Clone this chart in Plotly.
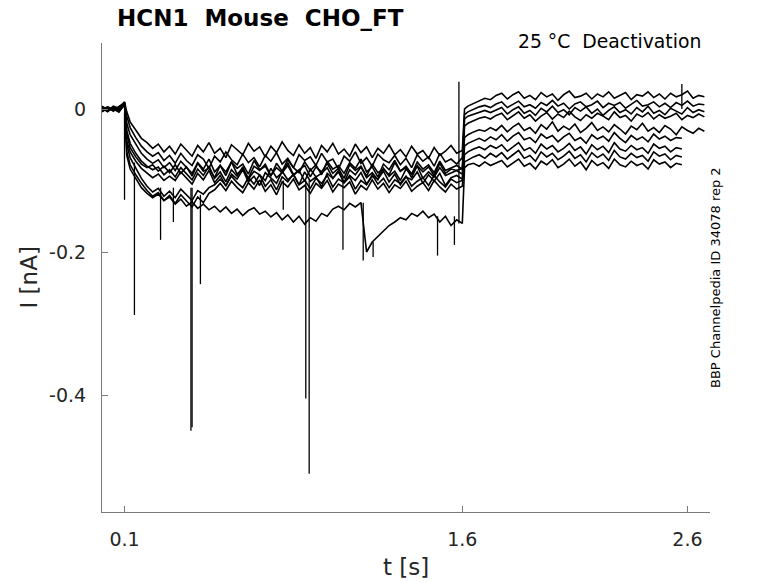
import plotly.graph_objects as go

# sample times [s]: before the step, during the -ve pulse, after the return at 1.6 s
t_pre = [0.000, 0.025, 0.050, 0.075, 0.100]
t_pulse = [0.110, 0.125, 0.150, 0.175, 0.200, 0.225, 0.250, 0.275, 0.300,
           0.325, 0.350, 0.375, 0.400, 0.425, 0.450, 0.475, 0.500, 0.525, 0.550,
           0.575, 0.600, 0.625, 0.650, 0.675, 0.700, 0.725, 0.750, 0.775, 0.800,
           0.825, 0.850, 0.875, 0.900, 0.925, 0.950, 0.975, 1.000, 1.025, 1.050,
           1.075, 1.100, 1.125, 1.150, 1.175, 1.200, 1.225, 1.250, 1.275, 1.300,
           1.325, 1.350, 1.375, 1.400, 1.425, 1.450, 1.475, 1.500, 1.525, 1.550,
           1.575, 1.600]
t_post = [1.610, 1.625, 1.650, 1.675, 1.700, 1.725, 1.750, 1.775, 1.800, 1.825,
          1.850, 1.875, 1.900, 1.925, 1.950, 1.975, 2.000, 2.025, 2.050, 2.075,
          2.100, 2.125, 2.150, 2.175, 2.200, 2.225, 2.250, 2.275, 2.300, 2.325,
          2.350, 2.375, 2.400, 2.425, 2.450, 2.475, 2.500, 2.525, 2.550, 2.575,
          2.600, 2.625, 2.650, 2.675]
t = t_pre + t_pulse + t_post

# current sweeps [nA] (the short ones stop at 2.575 s)
sweep_a = [0.002, -0.003, 0.004, 0.001, 0.010,
           -0.004, -0.018, -0.030, -0.041, -0.047, -0.055, -0.049, -0.060, -0.052,
           -0.063, -0.049, -0.058, -0.066, -0.051, -0.060, -0.047, -0.062, -0.055, -0.068,
           -0.050, -0.057, -0.064, -0.048, -0.059, -0.053, -0.067, -0.052, -0.061, -0.046,
           -0.058, -0.065, -0.050, -0.062, -0.054, -0.069, -0.051, -0.060, -0.048, -0.063,
           -0.056, -0.066, -0.049, -0.061, -0.053, -0.068, -0.055, -0.062, -0.050, -0.064,
           -0.057, -0.067, -0.052, -0.063, -0.058, -0.069, -0.054, -0.065, -0.059, -0.051,
           -0.062, -0.058,
           0.000, 0.004, 0.008, 0.011, 0.015, 0.013, 0.019,
           0.022, 0.014, 0.020, 0.024, 0.015, 0.019, 0.013, 0.023, 0.017, 0.021,
           0.012, 0.020, 0.025, 0.016, 0.018, 0.022, 0.014, 0.021, 0.017, 0.024,
           0.015, 0.019, 0.023, 0.013, 0.020, 0.018, 0.024, 0.016, 0.021, 0.014,
           0.022, 0.017, 0.020, 0.025, 0.015, 0.019, 0.017]
sweep_b = [-0.002, 0.003, -0.003, 0.002, 0.008,
           -0.010, -0.026, -0.040, -0.052, -0.060, -0.066, -0.061, -0.072, -0.065,
           -0.076, -0.062, -0.072, -0.079, -0.064, -0.070, -0.083, -0.066, -0.074, -0.060,
           -0.071, -0.078, -0.063, -0.075, -0.068, -0.081, -0.065, -0.073, -0.061, -0.077,
           -0.069, -0.082, -0.064, -0.072, -0.067, -0.079, -0.062, -0.074, -0.070, -0.084,
           -0.066, -0.073, -0.060, -0.076, -0.068, -0.080, -0.063, -0.071, -0.075, -0.065,
           -0.078, -0.069, -0.082, -0.064, -0.073, -0.067, -0.080, -0.062, -0.074, -0.070,
           -0.077, -0.068,
           -0.008, -0.004, 0.000, 0.003, 0.005, 0.002, 0.007,
           0.010, 0.002, 0.007, 0.011, 0.003, 0.006, 0.001, 0.009, 0.005, 0.012,
           0.004, 0.008, 0.000, 0.007, 0.010, 0.003, 0.006, 0.011, 0.002, 0.008,
           0.005, 0.009, 0.001, 0.007, 0.012, 0.004, 0.006, 0.010, 0.003, 0.008,
           0.002, 0.009, 0.005, 0.011, 0.004, 0.007, 0.006]
sweep_c = [0.004, -0.001, 0.001, -0.004, 0.006,
           -0.020, -0.036, -0.050, -0.062, -0.070, -0.076, -0.071, -0.082, -0.075,
           -0.086, -0.073, -0.082, -0.090, -0.075, -0.084, -0.070, -0.088, -0.079, -0.093,
           -0.074, -0.083, -0.077, -0.091, -0.072, -0.085, -0.080, -0.094, -0.076, -0.087,
           -0.071, -0.082, -0.089, -0.074, -0.086, -0.078, -0.092, -0.073, -0.084, -0.079,
           -0.090, -0.075, -0.083, -0.070, -0.088, -0.081, -0.095, -0.077, -0.085, -0.072,
           -0.087, -0.080, -0.091, -0.074, -0.084, -0.078, -0.089, -0.073, -0.086, -0.082,
           -0.079, -0.084,
           -0.014, -0.010, -0.007, -0.004, -0.002, -0.005, -0.001,
           0.002, -0.007, -0.001, 0.003, -0.006, -0.002, -0.009, 0.001, -0.004, 0.004,
           -0.005, -0.001, -0.008, 0.002, -0.003, 0.003, -0.006, 0.000, -0.009, -0.002,
           0.003, -0.005, -0.001, -0.007, 0.002, -0.004, 0.004, -0.006, -0.002, -0.008,
           0.001, -0.003, -0.007, 0.002, -0.005, -0.001, -0.004]
sweep_d = [-0.003, 0.002, -0.002, 0.004, 0.009,
           -0.030, -0.048, -0.062, -0.073, -0.080, -0.085, -0.081, -0.092, -0.085,
           -0.095, -0.082, -0.091, -0.099, -0.084, -0.093, -0.080, -0.097, -0.088, -0.102,
           -0.085, -0.094, -0.081, -0.098, -0.087, -0.092, -0.100, -0.083, -0.096, -0.089,
           -0.079, -0.093, -0.086, -0.101, -0.084, -0.095, -0.090, -0.082, -0.097, -0.088,
           -0.103, -0.085, -0.092, -0.081, -0.096, -0.089, -0.099, -0.083, -0.094, -0.087,
           -0.100, -0.084, -0.091, -0.080, -0.097, -0.088, -0.095, -0.082, -0.093, -0.090,
           -0.086, -0.091,
           -0.024, -0.020, -0.016, -0.013, -0.011, -0.014, -0.009,
           -0.006, -0.015, -0.009, -0.004, -0.013, -0.008, -0.017, -0.010, -0.005, -0.014,
           -0.007, -0.012, -0.003, -0.011, -0.016, -0.008, -0.013, -0.006, -0.010, -0.015,
           -0.004, -0.012, -0.009, -0.017, -0.007, -0.011, -0.005, -0.014, -0.008, -0.013,
           -0.010, -0.006, -0.015, -0.009, -0.012, -0.007, -0.011]
sweep_e = [0.001, -0.004, 0.003, -0.001, 0.007,
           -0.035, -0.054, -0.067, -0.077, -0.082, -0.078, -0.087, -0.080, -0.089,
           -0.078, -0.090, -0.081, -0.094, -0.076, -0.087, -0.083, -0.096, -0.079, -0.088,
           -0.074, -0.091, -0.084, -0.097, -0.080, -0.086, -0.077, -0.093, -0.082, -0.089,
           -0.075, -0.092, -0.085, -0.079, -0.095, -0.081, -0.088, -0.076, -0.090, -0.083,
           -0.097, -0.078, -0.086, -0.080, -0.094, -0.077, -0.089, -0.084, -0.092, -0.075,
           -0.087, -0.082, -0.096, -0.079, -0.088, -0.081, -0.093, -0.076, -0.090, -0.084,
           -0.086, -0.083,
           -0.040, -0.036, -0.032, -0.029, -0.031, -0.026, -0.030,
           -0.023, -0.032, -0.025, -0.020, -0.030, -0.026, -0.034, -0.022, -0.028, -0.018,
           -0.031, -0.024, -0.029, -0.021, -0.033, -0.027, -0.019, -0.030, -0.025, -0.032,
           -0.022, -0.028, -0.035, -0.024, -0.029, -0.020, -0.031, -0.026, -0.033, -0.023,
           -0.028, -0.036, -0.025, -0.030, -0.034, -0.027, -0.031]
sweep_f = [-0.001, 0.003, 0.000, -0.004, 0.008,
           -0.045, -0.060, -0.073, -0.083, -0.090, -0.096, -0.091, -0.100, -0.094,
           -0.100, -0.088, -0.097, -0.105, -0.090, -0.099, -0.086, -0.103, -0.093, -0.108,
           -0.091, -0.098, -0.085, -0.102, -0.094, -0.107, -0.089, -0.096, -0.104, -0.087,
           -0.099, -0.092, -0.106, -0.088, -0.101, -0.095, -0.109, -0.090, -0.097, -0.086,
           -0.103, -0.093, -0.100, -0.089, -0.105, -0.094, -0.098, -0.087, -0.102, -0.091,
           -0.106, -0.095, -0.099, -0.088, -0.104, -0.092, -0.101, -0.090, -0.107, -0.096,
           -0.093, -0.098,
           -0.052, -0.048, -0.044, -0.041, -0.045, -0.039, -0.043,
           -0.036, -0.045, -0.038, -0.033, -0.043, -0.040, -0.047, -0.035, -0.041, -0.037,
           -0.046, -0.039, -0.034, -0.044, -0.040, -0.048, -0.036, -0.042, -0.038, -0.045,
           -0.033, -0.041, -0.047, -0.037, -0.043, -0.039, -0.046, -0.035, -0.042, -0.038,
           -0.044, -0.040, -0.041]
sweep_g = [0.003, -0.002, 0.002, -0.003, 0.006,
           -0.050, -0.068, -0.083, -0.097, -0.108, -0.116, -0.111, -0.122, -0.115,
           -0.124, -0.112, -0.120, -0.128, -0.114, -0.119, -0.110, -0.106,
           -0.098, -0.107, -0.094, -0.103, -0.110, -0.096, -0.105, -0.092, -0.108, -0.099,
           -0.113, -0.095, -0.102, -0.091, -0.106, -0.100, -0.111, -0.097, -0.104, -0.093,
           -0.109, -0.098, -0.103, -0.095, -0.112, -0.100, -0.106, -0.092, -0.105, -0.097,
           -0.110, -0.099, -0.104, -0.094, -0.108, -0.101, -0.096, -0.107, -0.093, -0.102,
           -0.109, -0.098, -0.103, -0.100,
           -0.064, -0.060, -0.056, -0.053, -0.057, -0.051, -0.055,
           -0.050, -0.059, -0.053, -0.047, -0.058, -0.054, -0.062, -0.049, -0.056, -0.051,
           -0.060, -0.055, -0.048, -0.058, -0.053, -0.063, -0.050, -0.057, -0.052, -0.061,
           -0.047, -0.056, -0.059, -0.051, -0.057, -0.054, -0.062, -0.049, -0.055, -0.052,
           -0.060, -0.054, -0.056]
sweep_h = [-0.004, 0.001, -0.002, 0.003, 0.007,
           -0.060, -0.078, -0.092, -0.104, -0.114, -0.122, -0.117, -0.128, -0.121,
           -0.132, -0.120, -0.129, -0.137, -0.123, -0.131, -0.118, -0.113,
           -0.104, -0.114, -0.101, -0.110, -0.117, -0.103, -0.112, -0.099, -0.115, -0.106,
           -0.120, -0.102, -0.109, -0.098, -0.113, -0.107, -0.118, -0.104, -0.111, -0.100,
           -0.116, -0.105, -0.110, -0.102, -0.119, -0.107, -0.113, -0.099, -0.112, -0.104,
           -0.117, -0.106, -0.111, -0.101, -0.115, -0.108, -0.103, -0.114, -0.100, -0.109,
           -0.116, -0.105, -0.112, -0.108,
           -0.074, -0.071, -0.067, -0.064, -0.069, -0.062, -0.067,
           -0.061, -0.070, -0.064, -0.058, -0.069, -0.065, -0.073, -0.060, -0.067, -0.062,
           -0.071, -0.066, -0.059, -0.069, -0.064, -0.074, -0.061, -0.068, -0.063, -0.072,
           -0.058, -0.067, -0.070, -0.062, -0.068, -0.065, -0.073, -0.060, -0.066, -0.063,
           -0.071, -0.065, -0.067]
sweep_low = [0.002, -0.003, 0.001, -0.002, 0.008,
             -0.065, -0.084, -0.098, -0.110, -0.118, -0.124, -0.119, -0.128, -0.123,
             -0.133, -0.126, -0.136, -0.130, -0.139, -0.133, -0.141, -0.136,
             -0.144, -0.137, -0.146, -0.140, -0.149, -0.142, -0.138, -0.147, -0.143, -0.151,
             -0.145, -0.155, -0.148, -0.158, -0.150, -0.161, -0.152, -0.157, -0.146, -0.150,
             -0.140, -0.136, -0.141, -0.132, -0.137, -0.131,
             -0.200, -0.186, -0.178, -0.170, -0.163, -0.158, -0.152, -0.155, -0.146, -0.150,
             -0.143, -0.152, -0.147, -0.158, -0.150, -0.163, -0.155, -0.160,
             -0.082, -0.078, -0.076, -0.080, -0.074, -0.079, -0.075,
             -0.072, -0.081, -0.075, -0.070, -0.080, -0.076, -0.084, -0.073, -0.078, -0.071,
             -0.082, -0.077, -0.070, -0.080, -0.074, -0.085, -0.072, -0.079, -0.075, -0.083,
             -0.070, -0.078, -0.081, -0.073, -0.079, -0.076, -0.084, -0.071, -0.077, -0.074,
             -0.082, -0.076, -0.078]
sweeps = [sweep_a, sweep_b, sweep_c, sweep_d, sweep_e, sweep_f, sweep_g, sweep_h, sweep_low]

# brief transients: time [s], sweep level before it, tip value [nA]
spike_t = [0.100, 0.144, 0.260, 0.317, 0.395, 0.400, 0.437, 0.805, 0.905, 0.920,
           1.070, 1.160, 1.204, 1.490, 1.565, 1.585, 2.575]
spike_base = [-0.005, -0.075, -0.110, -0.110, -0.110, -0.110, -0.120, -0.100, -0.100, -0.100,
              -0.100, -0.131, -0.186, -0.150, -0.150, -0.160, 0.000]
spike_tip = [-0.127, -0.288, -0.183, -0.158, -0.450, -0.445, -0.245, -0.141, -0.405, -0.510,
             -0.197, -0.212, -0.207, -0.205, -0.190, 0.038, 0.035]

x_ticks = [0.1, 1.6, 2.6]
x_labels = ["0.1", "1.6", "2.6"]
y_ticks = [0, -0.2, -0.4]
y_labels = ["0", "-0.2", "-0.4"]

FONT = "DejaVu Sans"
TXT = "#262626"
AX = "#7a7a7a"

fig = go.Figure()

for s in sweeps:
    fig.add_trace(go.Scatter(x=t[:len(s)], y=s, mode="lines",
                             line=dict(color="black", width=1.6), hoverinfo="skip"))

for st, sb, sp in zip(spike_t, spike_base, spike_tip):
    fig.add_trace(go.Scatter(x=[st, st], y=[sb, sp], mode="lines",
                             line=dict(color="black", width=1.3), hoverinfo="skip"))

fig.update_layout(
    width=778, height=583,
    margin=dict(l=102, r=68, t=43, b=71),
    paper_bgcolor="white", plot_bgcolor="white",
    showlegend=False,
    font=dict(family=FONT, color=TXT),
    xaxis=dict(range=[0, 2.7], tickvals=x_ticks, ticktext=x_labels,
               showgrid=False, zeroline=False, showline=True, linecolor=AX, linewidth=1,
               ticks="inside", ticklen=6, tickcolor=AX, tickfont=dict(size=19, color=TXT),
               ticklabelstandoff=10),
    yaxis=dict(range=[-0.5636, 0.0923], tickvals=y_ticks, ticktext=y_labels,
               showgrid=False, zeroline=False, showline=True, linecolor=AX, linewidth=1,
               ticks="inside", ticklen=6, tickcolor=AX, tickfont=dict(size=19, color=TXT),
               ticklabelstandoff=11),
)

# title, condition, axis labels and source note
fig.add_annotation(text="<b>HCN1\u00a0\u00a0Mouse\u00a0\u00a0CHO_FT</b>", xref="paper", yref="paper",
                   x=0.021, y=1.0, yshift=25, xanchor="left", yanchor="middle",
                   showarrow=False, font=dict(size=23, color="black"))
fig.add_annotation(text="25 °C\u00a0\u00a0Deactivation", xref="paper", yref="paper",
                   x=0.988, y=1.0, yshift=2, xanchor="right", yanchor="middle",
                   showarrow=False, font=dict(size=18.8, color="black"))
fig.add_annotation(text="t [s]", xref="paper", yref="paper", x=0.5, y=0, yshift=-55,
                   xanchor="center", yanchor="middle", showarrow=False,
                   font=dict(size=23, color=TXT))
fig.add_annotation(text="I [nA]", xref="paper", yref="paper", x=0, xshift=-74, y=0.5,
                   xanchor="center", yanchor="middle", textangle=-90, showarrow=False,
                   font=dict(size=23, color=TXT))
fig.add_annotation(text="BBP Channelpedia ID 34078 rep 2", xref="paper", yref="paper",
                   x=1.0, xshift=6, y=0.499, xanchor="center", yanchor="middle",
                   textangle=-90, showarrow=False, font=dict(size=13, color="black"))

fig.write_html("out.html", config={"displayModeBar": False},
               post_script="document.body.style.margin='0';")
